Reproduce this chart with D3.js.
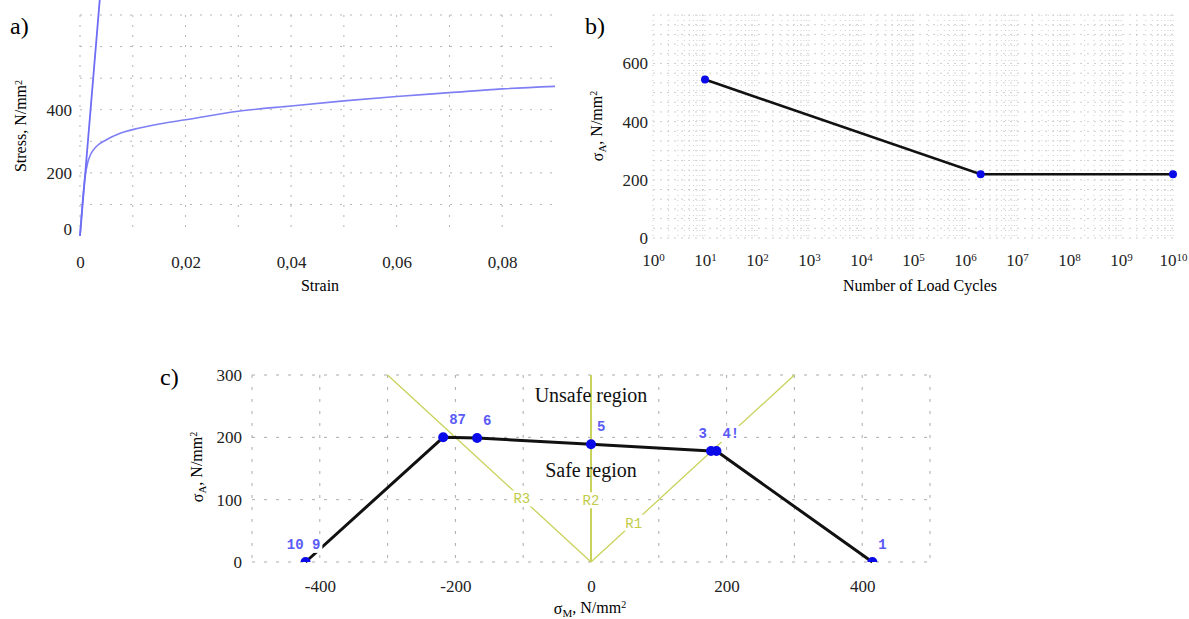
<!DOCTYPE html>
<html>
<head>
<meta charset="utf-8">
<script src="https://cdn.jsdelivr.net/npm/d3@7"></script>
<style>
  body { margin: 0; background: #fff; }
  text { font-family: "Liberation Serif", "Times New Roman", serif; }
  .mono { font-family: "Liberation Mono", "DejaVu Sans Mono", monospace; font-weight: bold; }
</style>
</head>
<body>
<svg id="chart" width="1189" height="619"></svg>
<script>
// a) stress-strain curve
const strain = [0, 0.0009, 0.0015, 0.002, 0.003, 0.005, 0.0075, 0.01, 0.015, 0.02, 0.03, 0.04, 0.05, 0.06, 0.07, 0.08, 0.09];
const stress = [0, 180, 235, 258, 282, 305, 325, 337, 355, 368, 395, 412, 428, 442, 454, 466, 474];
const elasticStrain = [0, 0.00375];
const elasticStress = [0, 750];
const strainTicks = [0, 0.02, 0.04, 0.06, 0.08];
const stressTicks = [0, 200, 400];

// b) S-N curve
const cycles = [10, 2e6, 1e10];
const amplitude = [545, 219, 219];
const cycleTicks = [0, 1, 2, 3, 4, 5, 6, 7, 8, 9, 10];
const amplitudeTicks = [0, 200, 400, 600];

// c) Haigh diagram
const meanStress = [415, 185, 177, 0, -168, -218, -421];
const ampStress = [0, 178, 178, 189, 199, 200, 0];
const pointLabels = ["1", "4!", "3", "5", "6", "87", "10 9"];
const labelAnchor = ["start", "start", "end", "start", "start", "start", "middle"];
const rayNames = ["R1", "R2", "R3"];
const rayEndM = [300, 0, -300];
const rayEndA = [300, 300, 300];
const rayLabelAt = [0.21, 0.33, 0.34];
const meanTicks = [-400, -200, 0, 200, 400];
const ampTicks = [0, 100, 200, 300];

const svg = d3.select('#chart');
const comma = d => String(d).replace('.', ',');

function styleAxis(g, size) {
    g.select('.domain').remove();
    g.selectAll('text').style('font-size', size + 'px').style('fill', '#222');
}

// ---------- panel a ----------
const xa = d3.scaleLinear().domain([0, 0.09]).range([80, 555]);
const ya = d3.scaleLinear().domain([0, 700]).range([236, 15]);
const ga = svg.append('g');

ga.selectAll('.hg').data(d3.range(100, 701, 100)).enter().append('line')
    .attr('x1', xa(0)).attr('x2', xa(0.09))
    .attr('y1', d => ya(d)).attr('y2', d => ya(d))
    .attr('stroke', '#b5b5b5').attr('stroke-dasharray', '2,8');
ga.selectAll('.vg').data(d3.range(0, 9).map(i => i / 100)).enter().append('line')
    .attr('x1', d => xa(d)).attr('x2', d => xa(d))
    .attr('y1', ya(700)).attr('y2', 233)
    .attr('stroke', '#b5b5b5').attr('stroke-dasharray', '2,8');

ga.append('g').attr('transform', 'translate(0,242)')
    .call(d3.axisBottom(xa).tickValues(strainTicks).tickSize(0).tickPadding(14).tickFormat(comma))
    .call(g => styleAxis(g, 17));
ga.append('g').attr('transform', 'translate(80,0)')
    .call(d3.axisLeft(ya).tickValues(stressTicks).tickSize(0).tickPadding(8))
    .call(g => styleAxis(g, 17))
    .call(g => g.selectAll('.tick').filter(d => d === 0).select('text').attr('dy', '-0.1em'));

const lineA = d3.line().x(d => xa(d[0])).y(d => ya(d[1])).curve(d3.curveMonotoneX);
ga.append('path').datum(d3.zip(strain, stress)).attr('d', lineA)
    .attr('fill', 'none').attr('stroke', '#7f7ff5').attr('stroke-width', 1.6);
ga.append('path').datum(d3.zip(elasticStrain, elasticStress)).attr('d', d3.line().x(d => xa(d[0])).y(d => ya(d[1])))
    .attr('fill', 'none').attr('stroke', '#6d6df5').attr('stroke-width', 1.8);

ga.append('text').attr('x', 320).attr('y', 291).attr('text-anchor', 'middle').style('font-size', '16px').text('Strain');
ga.append('text').attr('transform', 'translate(26,126) rotate(-90)').attr('text-anchor', 'middle')
    .style('font-size', '16px').text('Stress, N/mm').append('tspan').attr('dy', '-0.45em').style('font-size', '10px').text('2');
svg.append('text').attr('x', 10).attr('y', 34).style('font-size', '24px').text('a)');

// ---------- panel b ----------
const xb = d3.scaleLog().domain([1, 1e10]).range([653, 1173]);
const yb = d3.scaleLinear().domain([0, 2300 / 3]).range([238, 15]);
const gb = svg.append('g');

const minor = [];
for (let p = 0; p < 10; p++) for (let m = 1; m < 10; m++) minor.push(m * Math.pow(10, p));
minor.push(1e10);
gb.selectAll('.vg').data(minor).enter().append('line')
    .attr('x1', d => xb(d)).attr('x2', d => xb(d))
    .attr('y1', yb(2300 / 3)).attr('y2', yb(0))
    .attr('stroke', '#cfcfcf').attr('stroke-dasharray', '1,4');
gb.selectAll('.hg').data(d3.range(0, 24).map(i => i * 100 / 3)).enter().append('line')
    .attr('x1', xb(1)).attr('x2', xb(1e10))
    .attr('y1', d => yb(d)).attr('y2', d => yb(d))
    .attr('stroke', '#cfcfcf').attr('stroke-dasharray', '2,5');

gb.append('g').attr('transform', 'translate(0,242)')
    .call(d3.axisBottom(xb).tickValues(cycleTicks.map(p => Math.pow(10, p))).tickSize(0).tickPadding(12).tickFormat(() => ''))
    .call(g => styleAxis(g, 17))
    .call(g => g.selectAll('.tick text').each(function (d) {
        const t = d3.select(this);
        t.append('tspan').text('10');
        t.append('tspan').attr('dy', '-0.45em').style('font-size', '11px').text(Math.round(Math.log10(d)));
    }));
gb.append('g').attr('transform', 'translate(653,0)')
    .call(d3.axisLeft(yb).tickValues(amplitudeTicks).tickSize(0).tickPadding(5))
    .call(g => styleAxis(g, 17));

gb.append('path').datum(d3.zip(cycles, amplitude))
    .attr('d', d3.line().x(d => xb(d[0])).y(d => yb(d[1])))
    .attr('fill', 'none').attr('stroke', '#111').attr('stroke-width', 2.6);
gb.selectAll('.dot').data(d3.zip(cycles, amplitude)).enter().append('circle')
    .attr('cx', d => xb(d[0])).attr('cy', d => yb(d[1])).attr('r', 4)
    .attr('fill', '#0a0ae8');

gb.append('text').attr('x', 920).attr('y', 291).attr('text-anchor', 'middle').style('font-size', '16px').text('Number of Load Cycles');
const tb = gb.append('text').attr('transform', 'translate(603,126) rotate(-90)').attr('text-anchor', 'middle').style('font-size', '16px');
tb.append('tspan').text('σ');
tb.append('tspan').attr('dy', '0.25em').style('font-size', '11px').text('A');
tb.append('tspan').attr('dy', '-0.25em').text(', N/mm');
tb.append('tspan').attr('dy', '-0.45em').style('font-size', '10px').text('2');
svg.append('text').attr('x', 585).attr('y', 34).style('font-size', '24px').text('b)');

// ---------- panel c ----------
const xc = d3.scaleLinear().domain([-500, 500]).range([252, 930]);
const yc = d3.scaleLinear().domain([0, 300]).range([562, 375]);
const gc = svg.append('g');

svg.append('defs').append('clipPath').attr('id', 'clipc').append('rect')
    .attr('x', 252).attr('y', 360).attr('width', 678).attr('height', 202);

gc.selectAll('.hg').data(ampTicks).enter().append('line')
    .attr('x1', xc(-500)).attr('x2', xc(500))
    .attr('y1', d => yc(d)).attr('y2', d => yc(d))
    .attr('stroke', '#aaa').attr('stroke-dasharray', '3,9');
gc.selectAll('.vg').data(d3.range(-500, 501, 100)).enter().append('line')
    .attr('x1', d => xc(d)).attr('x2', d => xc(d))
    .attr('y1', yc(300)).attr('y2', yc(0))
    .attr('stroke', '#aaa').attr('stroke-dasharray', '3,9');

gc.append('g').attr('transform', 'translate(0,568)')
    .call(d3.axisBottom(xc).tickValues(meanTicks).tickSize(0).tickPadding(12).tickFormat(d => String(d)))
    .call(g => styleAxis(g, 17));
gc.append('g').attr('transform', 'translate(250,0)')
    .call(d3.axisLeft(yc).tickValues(ampTicks).tickSize(0).tickPadding(8))
    .call(g => styleAxis(g, 17));

// rays from origin
rayNames.forEach((name, i) => {
    gc.append('line')
        .attr('x1', xc(0)).attr('y1', yc(0))
        .attr('x2', xc(rayEndM[i])).attr('y2', yc(rayEndA[i]))
        .attr('stroke', '#c9d25a').attr('stroke-width', i === 1 ? 2 : 1.3);
});

// region annotations
gc.append('text').attr('x', xc(0)).attr('y', yc(268)).attr('dy', '0.35em').attr('text-anchor', 'middle')
    .style('font-size', '20px').style('fill', '#111').text('Unsafe region');
gc.append('text').attr('x', xc(0)).attr('y', yc(148)).attr('dy', '0.35em').attr('text-anchor', 'middle')
    .style('font-size', '20px').style('fill', '#111').text('Safe region');

// ray labels with white box
rayNames.forEach((name, i) => {
    const cx = xc(rayEndM[i] * rayLabelAt[i]);
    const cy = yc(rayEndA[i] * rayLabelAt[i]);
    gc.append('rect').attr('x', cx - 11).attr('y', cy - 8).attr('width', 22).attr('height', 16).attr('fill', '#fff');
    gc.append('text').attr('class', 'mono').attr('x', cx).attr('y', cy).attr('dy', '0.35em')
        .attr('text-anchor', 'middle').style('font-size', '14px').style('font-weight', 'normal')
        .style('fill', '#c2cb4a').text(name);
});

const pts = d3.zip(meanStress, ampStress);
gc.append('path').datum(pts).attr('d', d3.line().x(d => xc(d[0])).y(d => yc(d[1])))
    .attr('fill', 'none').attr('stroke', '#111').attr('stroke-width', 3).attr('stroke-linejoin', 'round');

// point labels with white box
pts.forEach((p, i) => {
    const anchor = labelAnchor[i];
    const lx = xc(p[0]) + (anchor === 'start' ? 6 : anchor === 'end' ? -4 : -2);
    const ly = yc(p[1]) - 18;
    const t = gc.append('text').attr('class', 'mono').attr('x', lx).attr('y', ly).attr('dy', '0.35em')
        .attr('text-anchor', anchor).style('font-size', '14px').style('fill', '#5a5af5').text(pointLabels[i]);
    const bb = t.node().getBBox();
    gc.insert('rect', function () { return t.node(); })
        .attr('x', bb.x - 2).attr('y', bb.y).attr('width', bb.width + 4).attr('height', bb.height)
        .attr('fill', '#fff');
});

gc.append('g').attr('clip-path', 'url(#clipc)')
    .selectAll('circle').data(pts).enter().append('circle')
    .attr('cx', d => xc(d[0])).attr('cy', d => yc(d[1])).attr('r', 5)
    .attr('fill', '#0a0ae8');

const tcx = gc.append('text').attr('x', 590).attr('y', 614).attr('text-anchor', 'middle').style('font-size', '16px');
tcx.append('tspan').text('σ');
tcx.append('tspan').attr('dy', '0.25em').style('font-size', '11px').text('M');
tcx.append('tspan').attr('dy', '-0.25em').text(', N/mm');
tcx.append('tspan').attr('dy', '-0.45em').style('font-size', '10px').text('2');
const tcy = gc.append('text').attr('transform', 'translate(203,467) rotate(-90)').attr('text-anchor', 'middle').style('font-size', '16px');
tcy.append('tspan').text('σ');
tcy.append('tspan').attr('dy', '0.25em').style('font-size', '11px').text('A');
tcy.append('tspan').attr('dy', '-0.25em').text(', N/mm');
tcy.append('tspan').attr('dy', '-0.45em').style('font-size', '10px').text('2');
svg.append('text').attr('x', 160).attr('y', 385).style('font-size', '24px').text('c)');
</script>
</body>
</html>
